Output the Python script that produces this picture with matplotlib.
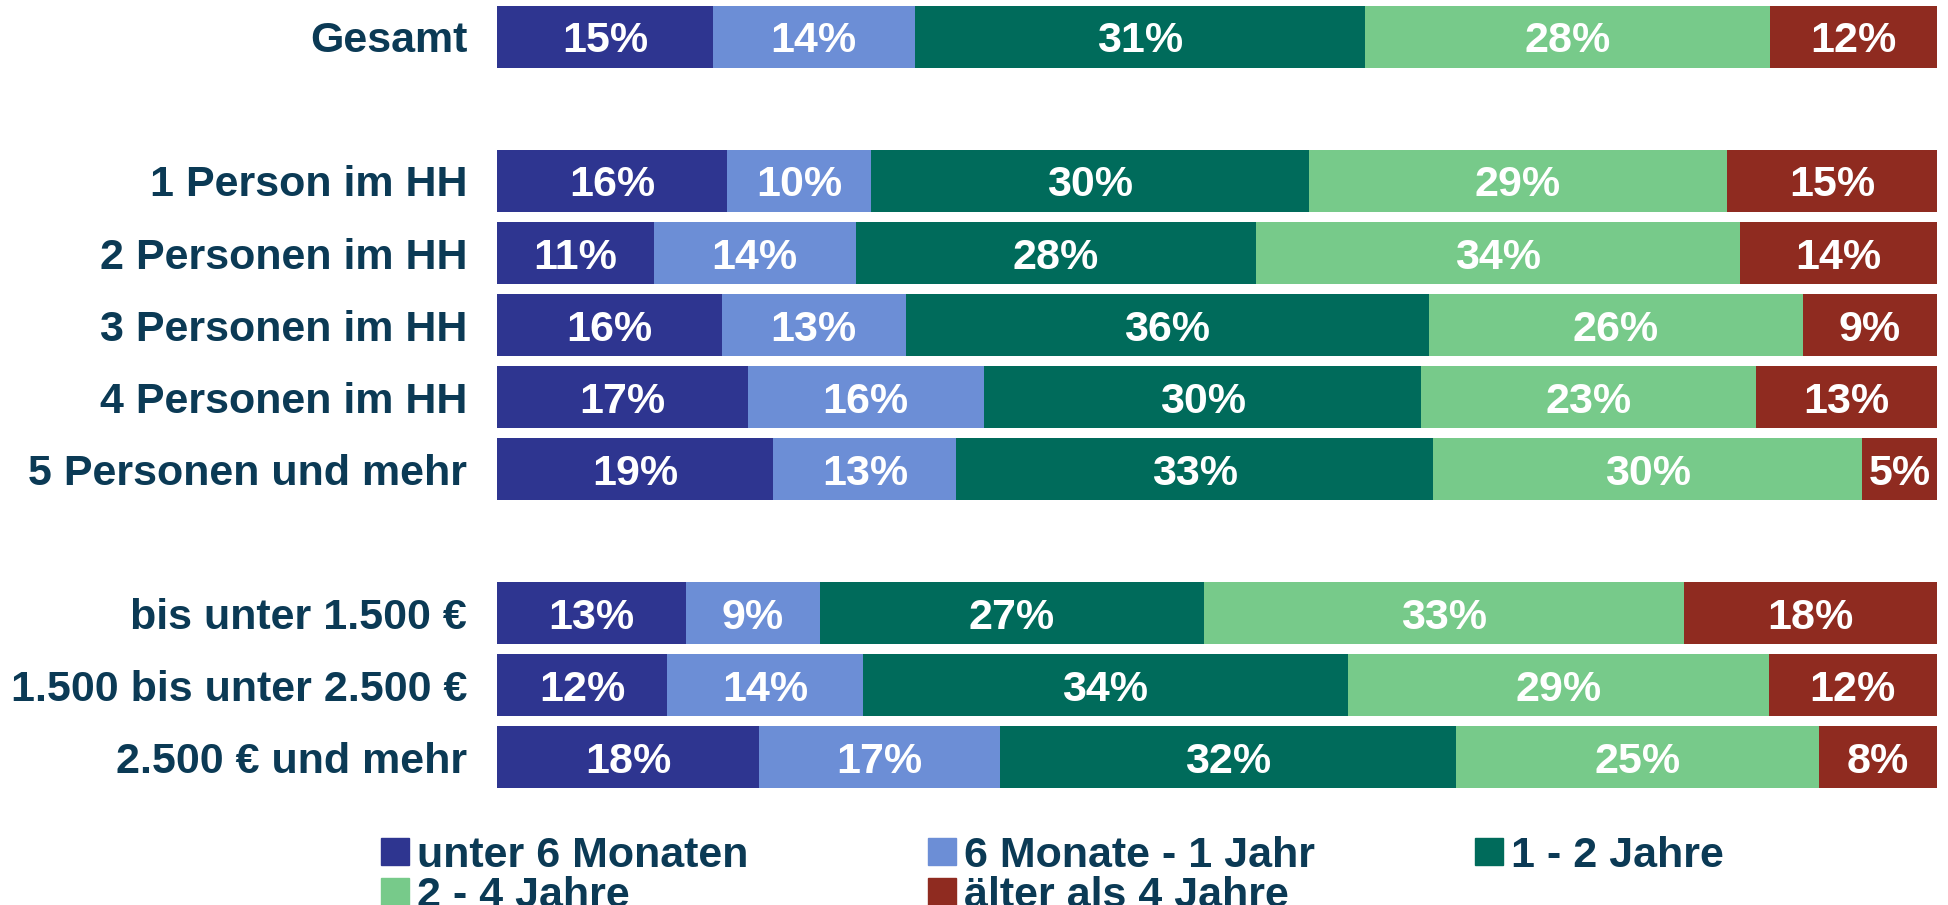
import matplotlib
matplotlib.use("Agg")
import matplotlib.pyplot as plt
from matplotlib.patches import Rectangle

plt.rcParams['font.family'] = ['Liberation Sans', 'DejaVu Sans']

# ---- data ----
categories = ["Gesamt",
              "1 Person im HH", "2 Personen im HH", "3 Personen im HH",
              "4 Personen im HH", "5 Personen und mehr",
              "bis unter 1.500 €", "1.500 bis unter 2.500 €", "2.500 € und mehr"]
group_sizes = [1, 5, 3]
series = ["unter 6 Monaten", "6 Monate - 1 Jahr", "1 - 2 Jahre",
          "2 - 4 Jahre", "älter als 4 Jahre"]
unter_6_monate = [15.0, 16.0, 10.9, 15.6, 17.4, 19.2, 13.1, 11.8, 18.2]
monate_6_bis_1_jahr = [14.0, 10.0, 14.0, 12.8, 16.4, 12.7, 9.3, 13.6, 16.7]
jahre_1_bis_2 = [31.3, 30.4, 27.8, 36.3, 30.4, 33.1, 26.7, 33.7, 31.7]
jahre_2_bis_4 = [28.1, 29.0, 33.6, 26.0, 23.2, 29.8, 33.3, 29.2, 25.2]
aelter_4_jahre = [11.6, 14.6, 13.7, 9.3, 12.6, 5.2, 17.6, 11.7, 8.2]
values = [unter_6_monate, monate_6_bis_1_jahr, jahre_1_bis_2, jahre_2_bis_4, aelter_4_jahre]
colors = ["#2E3590", "#6C8ED6", "#006B5B", "#77CA8A", "#8F2B20"]

TEXT = "#0B3A55"
FS = 31

W, H = 1948, 905
fig = plt.figure(figsize=(W / 100, H / 100), dpi=100)
ax_left, ax_right = 497, 1937
ax_top, ax_bottom = 1, 793
ax = fig.add_axes([ax_left / W, 1 - ax_bottom / H, (ax_right - ax_left) / W, (ax_bottom - ax_top) / H])

# positions: groups separated by one empty slot
positions = []
slot = 0
for g in group_sizes:
    for _ in range(g):
        positions.append(slot)
        slot += 1
    slot += 1
n_slots = slot - 1

left = [0.0] * len(categories)
for vals, col in zip(values, colors):
    bars = ax.barh(positions, vals, left=left, height=0.85, color=col, edgecolor='none')
    for b, v in zip(bars, vals):
        ax.text(b.get_x() + b.get_width() / 2, b.get_y() + b.get_height() / 2,
                f"{v:.0f}%", ha='center', va='center_baseline', color='white',
                fontsize=FS, fontweight='bold')
    left = [l + v for l, v in zip(left, vals)]

ax.set_xlim(0, 100)
ax.set_ylim(n_slots - 0.5, -0.5)
ax.set_yticks(positions)
ax.set_yticklabels(categories, fontsize=FS, fontweight='bold', color=TEXT)
ax.tick_params(axis='y', length=0, pad=21.5)
ax.set_xticks([])
for s in ax.spines.values():
    s.set_visible(False)

# legend (row-major, 3 columns)
col_x0, col_dx = 381, 547
row_y0, row_dy = 851.5, 40
patch_w, patch_h = 28, 27
for i, (name, col) in enumerate(zip(series, colors)):
    r, c = divmod(i, 3)
    x = col_x0 + c * col_dx
    y = row_y0 + r * row_dy
    fig.patches.append(Rectangle((x / W, 1 - (y + patch_h / 2) / H), patch_w / W, patch_h / H,
                                 transform=fig.transFigure, color=col, figure=fig))
    fig.text((x + 36) / W, 1 - y / H, name, ha='left', va='center_baseline',
             fontsize=FS, fontweight='bold', color=TEXT)

fig.savefig("out.png", dpi=100)
